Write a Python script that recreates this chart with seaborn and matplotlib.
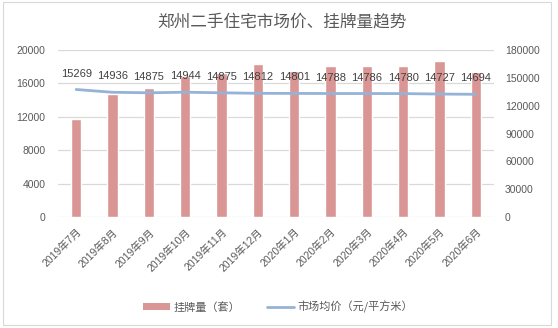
import numpy as np
import pandas as pd
import matplotlib
matplotlib.use("Agg")
import matplotlib.pyplot as plt
from matplotlib.patches import Patch, Rectangle
from matplotlib.lines import Line2D
import seaborn as sns

months = ["2019年7月", "2019年8月", "2019年9月", "2019年10月", "2019年11月", "2019年12月",
          "2020年1月", "2020年2月", "2020年3月", "2020年4月", "2020年5月", "2020年6月"]
avg_price = [15269, 14936, 14875, 14944, 14875, 14812, 14801, 14788, 14786, 14780, 14727, 14694]
listings = [105600, 132900, 139000, 151700, 155200, 164900, 157400, 162800, 162800, 162800, 168200, 156000]
left_ticks = [0, 4000, 8000, 12000, 16000, 20000]
right_ticks = [0, 30000, 60000, 90000, 120000, 150000, 180000]

title = "郑州二手住宅市场价、挂牌量趋势"
bar_name = "挂牌量（套）"
line_name = "市场均价（元/平方米）"

BAR_COLOR = "#D99694"
LINE_COLOR = "#95B3D7"
TEXT_COLOR = "#595959"
GRID_COLOR = "#D9D9D9"

sns.set_theme(style="white")
plt.rcParams["font.family"] = ["Liberation Sans", "Noto Sans CJK SC", "DejaVu Sans"]

df = pd.DataFrame({"month": months, "price": avg_price, "listings": listings,
                   "pos": np.arange(len(months))})

W, H = 558, 328
fig = plt.figure(figsize=(W / 100, H / 100), dpi=100)
fig.patch.set_facecolor("white")

# plot area in pixel terms
x0, x1, ytop, ybot = 58, 494, 50, 217
rect = [x0 / W, 1 - ybot / H, (x1 - x0) / W, (ybot - ytop) / H]

ax = fig.add_axes(rect)          # price scale (left) + gridlines
ax_bar = ax.twinx()              # listing scale (right)
ax_line = ax.twinx()             # price line drawn above the bars

sns.barplot(data=df, x="pos", y="listings", ax=ax_bar, color=BAR_COLOR,
            width=0.29, saturation=1, native_scale=True)
sns.lineplot(data=df, x="pos", y="price", ax=ax_line, color=LINE_COLOR,
             linewidth=2.0, legend=False)

ax.set_ylim(0, 20000)
ax_line.set_ylim(0, 20000)
ax_bar.set_ylim(0, 180000)

ax.set_yticks(left_ticks)
ax.set_yticklabels([str(t) for t in left_ticks])
ax_bar.set_yticks(right_ticks)
ax_bar.set_yticklabels([str(t) for t in right_ticks])
ax.grid(axis="y", color=GRID_COLOR, linewidth=0.9)
ax.grid(axis="x", visible=False)
ax.set_axisbelow(True)
ax_line.set_yticks([])

ax.tick_params(axis="y", length=0, pad=9, labelsize=7.5, labelcolor=TEXT_COLOR)
ax_bar.tick_params(axis="y", length=0, pad=8, labelsize=7.5, labelcolor=TEXT_COLOR)

for a in (ax, ax_bar, ax_line):
    for s in a.spines.values():
        s.set_visible(False)
    a.set_xlabel("")
    a.set_ylabel("")

# month labels on the shared bottom axis
ax.set_xticks(df["pos"])
ax.set_xticklabels(months, rotation=45, ha="right", va="top",
                   rotation_mode="anchor", fontsize=7.5, color=TEXT_COLOR)
ax.tick_params(axis="x", length=0, pad=7)
ax.set_xlim(-0.5, len(months) - 0.5)

for p, v in zip(df["pos"], df["price"]):
    ax_line.annotate(str(v), (p, v), xytext=(0, 11.5), textcoords="offset points",
                     ha="center", va="center", fontsize=8, color="#404040")

fig.text(282 / W, 1 - 22 / H, title, ha="center", va="center", fontsize=12,
         color=TEXT_COLOR, family=["Noto Sans CJK SC", "DejaVu Sans"])

handles = [Patch(facecolor=BAR_COLOR, edgecolor="none"),
           Line2D([0], [0], color=LINE_COLOR, linewidth=2.0)]
fig.legend(handles, [bar_name, line_name], loc="center", ncol=2,
           bbox_to_anchor=(278 / W, 1 - 307 / H), frameon=False,
           prop={"family": ["Noto Sans CJK SC"], "size": 8},
           labelcolor=TEXT_COLOR, handlelength=2.4, handleheight=0.6,
           handletextpad=0.3, columnspacing=2.4)

fig.patches.append(Rectangle((2.5 / W, 1 - 325 / H), (551 - 2.5) / W, (325 - 2) / H,
                             transform=fig.transFigure, fill=False,
                             edgecolor=GRID_COLOR, linewidth=0.8))

fig.savefig("out.png", dpi=100)
